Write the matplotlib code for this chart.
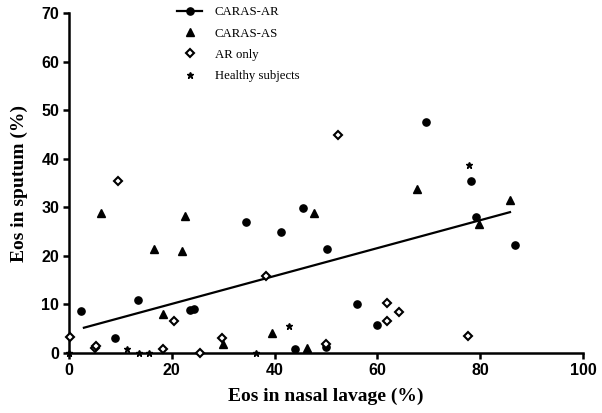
import matplotlib
matplotlib.use('Agg')
import matplotlib.pyplot as plt
from matplotlib.lines import Line2D

# values
ar_x = [2.4, 9.0, 13.5, 23.5, 24.4, 34.4, 41.2, 44.0, 45.5, 50.0, 50.2, 56.0, 60.0, 69.4, 78.3, 79.1, 86.8]
ar_y = [8.6, 3.0, 11.0, 8.8, 9.0, 27.0, 24.9, 0.8, 29.8, 1.3, 21.5, 10.0, 5.7, 47.6, 35.5, 27.9, 22.2]

as_x = [6.2, 16.5, 18.2, 22.0, 22.6, 30.0, 39.5, 46.4, 47.7, 67.8, 79.8, 85.8]
as_y = [28.9, 21.4, 8.0, 20.9, 28.2, 1.8, 4.1, 1.0, 28.9, 33.8, 26.5, 31.4]

aronly_x = [0.2, 5.0, 5.3, 9.5, 18.3, 20.4, 25.5, 29.8, 38.3, 50.0, 52.4, 61.8, 61.8, 64.2, 77.7]
aronly_y = [3.3, 1.0, 1.4, 35.5, 0.8, 6.6, 0.0, 3.1, 15.8, 1.8, 44.9, 10.3, 6.6, 8.4, 3.4]

healthy_x = [0.0, 11.2, 13.6, 15.5, 36.4, 42.9, 77.9]
healthy_y = [0.0, 0.9, 0.1, 0.1, 0.1, 5.6, 38.7]

# regression line for CARAS-AR, ends
fit_x = [2.9, 85.8]
fit_y = [5.2, 29.0]

xticks = [0, 20, 40, 60, 80, 100]
yticks = [0, 10, 20, 30, 40, 50, 60, 70]

fig = plt.figure(figsize=(6.02, 4.13), dpi=100)
ax = fig.add_axes([0.1146, 0.1453, 0.8538, 0.8232])

ax.plot(fit_x, fit_y, color='black', lw=1.6, zorder=2)
ax.plot(ar_x, ar_y, 'o', color='black', ms=5.2, clip_on=False, zorder=3)
ax.plot(as_x, as_y, '^', color='black', ms=5.2, clip_on=False, zorder=3)
ax.plot(aronly_x, aronly_y, 'D', mfc='white', mec='black', mew=1.5, ms=4,
        clip_on=False, zorder=4)
ax.plot(healthy_x, healthy_y, '*', color='black', ms=5, clip_on=False, zorder=4)

ax.set_xlim(0, 100)
ax.set_ylim(0, 70)
ax.set_xticks(xticks)
ax.set_yticks(yticks)

for s in ['top', 'right']:
    ax.spines[s].set_visible(False)
for s in ['left', 'bottom']:
    ax.spines[s].set_linewidth(1.8)
ax.tick_params(direction='out', length=4, width=1.8, pad=3)
for lab in ax.get_xticklabels() + ax.get_yticklabels():
    lab.set_fontfamily('Liberation Sans')
    lab.set_fontweight('bold')
    lab.set_fontsize(11.5)

ax.set_xlabel('Eos in nasal lavage (%)', family='Liberation Serif',
              fontweight='bold', fontsize=14, labelpad=7)
ax.set_ylabel('Eos in sputum (%)', family='Liberation Serif',
              fontweight='bold', fontsize=14, labelpad=10)

handles = [
    Line2D([], [], color='black', lw=1.6, marker='o', ms=5.2),
    Line2D([], [], ls='none', color='black', marker='^', ms=5.2),
    Line2D([], [], ls='none', marker='D', mfc='white', mec='black', mew=1.5, ms=4),
    Line2D([], [], ls='none', color='black', marker='*', ms=5),
]
labels = ['CARAS-AR', 'CARAS-AS', 'AR only', 'Healthy subjects']
ax.legend(handles, labels, loc='upper left', bbox_to_anchor=(0.188, 1.053),
          frameon=False, prop={'family': 'Liberation Serif', 'size': 9.2},
          labelspacing=0.72, handlelength=1.96, handletextpad=1.0)

fig.savefig('out.png', dpi=100)
